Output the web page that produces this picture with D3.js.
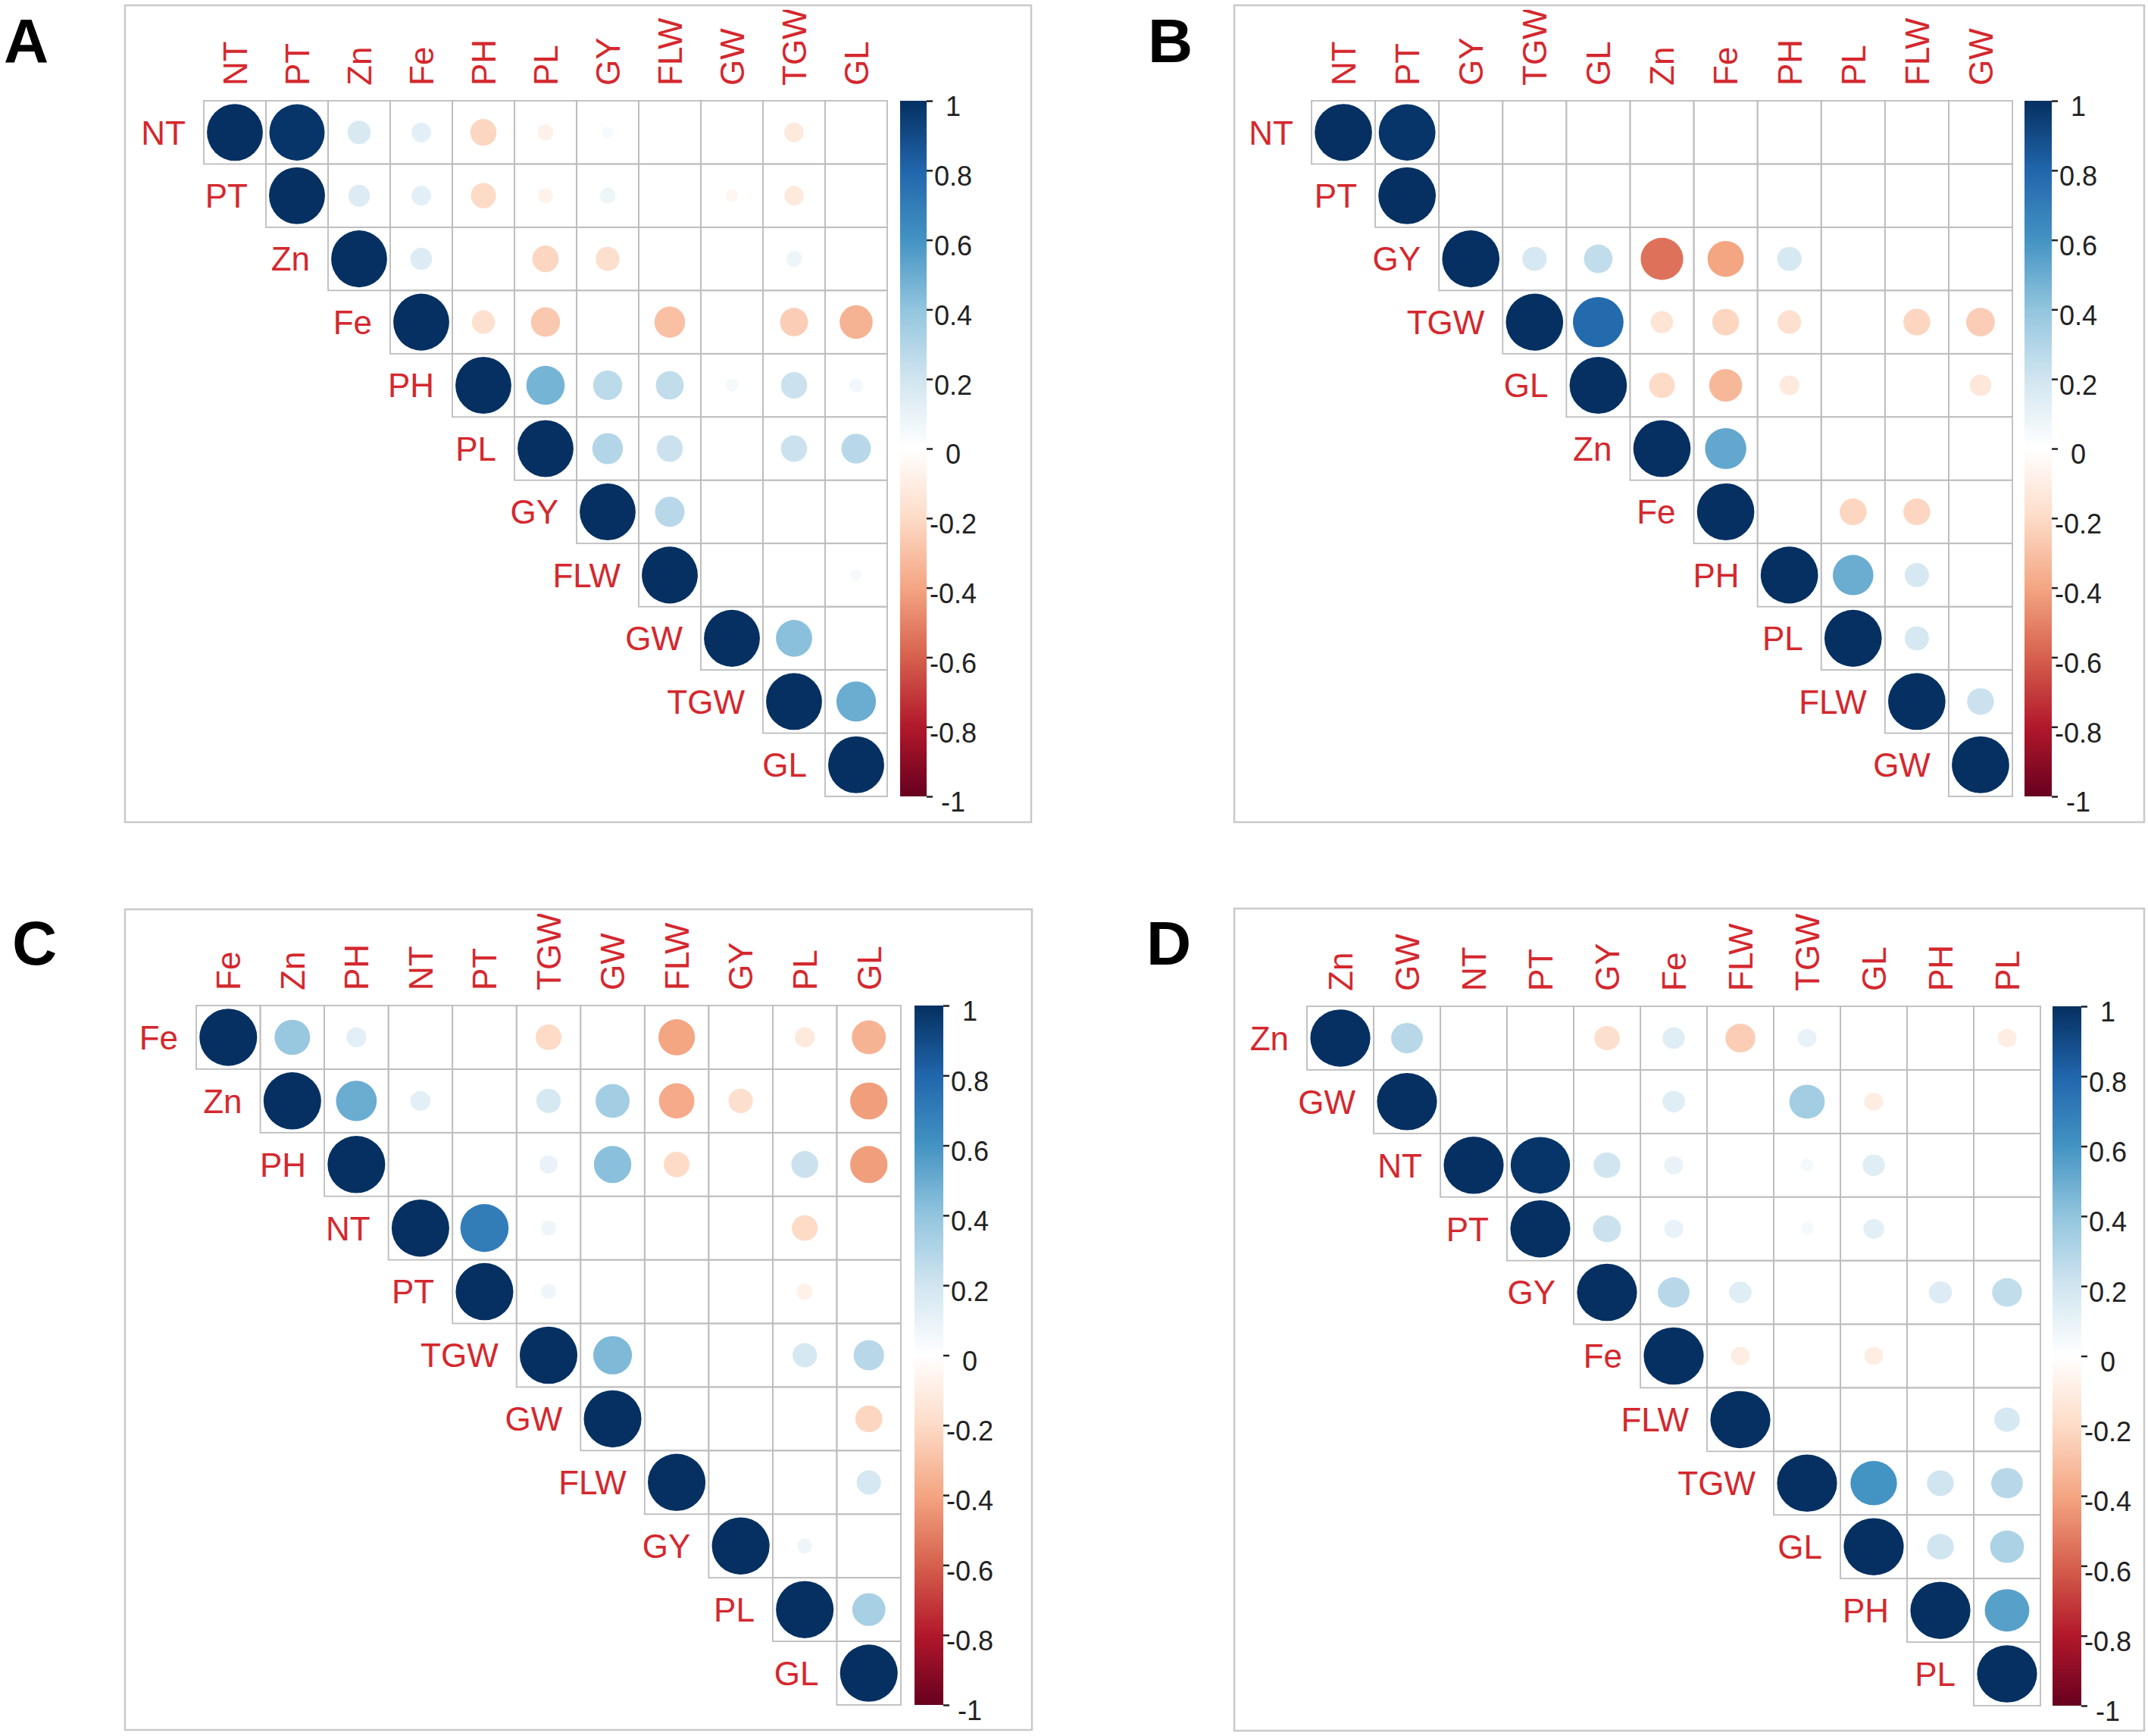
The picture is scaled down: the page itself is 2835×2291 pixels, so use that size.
<!DOCTYPE html>
<html>
<head>
<meta charset="utf-8">
<script src="https://cdn.jsdelivr.net/npm/d3@7/dist/d3.min.js"></script>
<style>
  body { margin: 0; background: #fff; }
  text { font-family: "Liberation Sans", Arial, sans-serif; }
</style>
</head>
<body>
<svg id="chart"></svg>
<script>
// variable order of each panel (rows and columns)
const varsA = ["NT", "PT", "Zn", "Fe", "PH", "PL", "GY", "FLW", "GW", "TGW", "GL"];
const varsB = ["NT", "PT", "GY", "TGW", "GL", "Zn", "Fe", "PH", "PL", "FLW", "GW"];
const varsC = ["Fe", "Zn", "PH", "NT", "PT", "TGW", "GW", "FLW", "GY", "PL", "GL"];
const varsD = ["Zn", "GW", "NT", "PT", "GY", "Fe", "FLW", "TGW", "GL", "PH", "PL"];

// upper triangle of each correlation matrix, row i starts at the diagonal
const corrA = [
  [1, 0.98, 0.17, 0.12, -0.22, -0.08, 0.04, 0, 0, -0.12, 0],
  [1, 0.15, 0.12, -0.2, -0.07, 0.08, 0, -0.05, -0.12, 0],
  [1, 0.15, 0, -0.22, -0.18, 0, 0, 0.08, 0],
  [1, -0.17, -0.27, 0, -0.3, 0, -0.25, -0.35],
  [1, 0.47, 0.27, 0.25, 0.05, 0.22, 0.06],
  [1, 0.3, 0.22, 0, 0.22, 0.28],
  [1, 0.28, 0, 0, 0],
  [1, 0, 0, 0.04],
  [1, 0.42, 0],
  [1, 0.5],
  [1]
];
const corrB = [
  [1, 0.98, 0, 0, 0, 0, 0, 0, 0, 0, 0],
  [1, 0, 0, 0, 0, 0, 0, 0, 0, 0],
  [1, 0.18, 0.25, -0.55, -0.4, 0.18, 0, 0, 0],
  [1, 0.78, -0.15, -0.22, -0.17, 0, -0.22, -0.25],
  [1, -0.2, -0.33, -0.12, 0, 0, -0.14],
  [1, 0.52, 0, 0, 0, 0],
  [1, 0, -0.22, -0.22, 0],
  [1, 0.5, 0.18, 0],
  [1, 0.18, 0],
  [1, 0.22],
  [1]
];
const corrC = [
  [1, 0.38, 0.12, 0, 0, -0.2, 0, -0.4, 0, -0.12, -0.35],
  [1, 0.5, 0.12, 0, 0.18, 0.35, -0.38, -0.18, 0, -0.42],
  [1, 0, 0, 0.1, 0.42, -0.2, 0, 0.22, -0.42],
  [1, 0.7, 0.07, 0, 0, 0, -0.2, 0],
  [1, 0.07, 0, 0, 0, -0.08, 0],
  [1, 0.45, 0, 0, 0.18, 0.28],
  [1, 0, 0, 0, -0.22],
  [1, 0, 0, 0.18],
  [1, 0.07, 0],
  [1, 0.33],
  [1]
];
const corrD = [
  [1, 0.28, 0, 0, -0.18, 0.14, -0.25, 0.1, 0, 0, -0.1],
  [1, 0, 0, 0, 0.14, 0, 0.35, -0.1, 0, 0],
  [1, 0.98, 0.2, 0.1, 0, 0.05, 0.14, 0, 0],
  [1, 0.22, 0.1, 0, 0.05, 0.12, 0, 0],
  [1, 0.28, 0.14, 0, 0, 0.15, 0.25],
  [1, -0.1, 0, -0.1, 0, 0],
  [1, 0, 0, 0, 0.18],
  [1, 0.6, 0.2, 0.28],
  [1, 0.2, 0.32],
  [1, 0.55],
  [1]
];

const legendTicks = [1, 0.8, 0.6, 0.4, 0.2, 0, -0.2, -0.4, -0.6, -0.8, -1];

// corrplot RdBu palette, from -1 to 1
const rdbu = ["#67001F", "#B2182B", "#D6604D", "#F4A582", "#FDDBC7", "#FFFFFF",
              "#D1E5F0", "#92C5DE", "#4393C3", "#2166AC", "#053061"];
const color = d3.scaleLinear()
  .domain(d3.range(11).map(i => -1 + i * 0.2))
  .range(rdbu);

const W = 2835, H = 2291;
const svg = d3.select("#chart").attr("width", W).attr("height", H);
svg.append("rect").attr("width", W).attr("height", H).attr("fill", "#fff");

const defs = svg.append("defs");
const grad = defs.append("linearGradient")
  .attr("id", "rdbu").attr("x1", 0).attr("y1", 1).attr("x2", 0).attr("y2", 0);
rdbu.forEach((c, i) => grad.append("stop").attr("offset", i / 10).attr("stop-color", c));

const labelRed = "#d4282e";

const panels = [
  { letter: "A", vars: varsA, corr: corrA, frame: [165, 7, 1361, 1085], grid: [269, 133, 1171, 1051], bar: [1188, 1223], lx: 5, ly: 82 },
  { letter: "B", vars: varsB, corr: corrB, frame: [1629, 7, 2830, 1085], grid: [1731, 133, 2656, 1051], bar: [2672, 2708], lx: 1515, ly: 82 },
  { letter: "C", vars: varsC, corr: corrC, frame: [165, 1200, 1362, 2283], grid: [259, 1327, 1189, 2250], bar: [1207, 1245], lx: 16, ly: 1273 },
  { letter: "D", vars: varsD, corr: corrD, frame: [1629, 1199, 2830, 2284], grid: [1725, 1328, 2693, 2251], bar: [2709, 2747], lx: 1513, ly: 1273 }
];

panels.forEach((p, pi) => {
  const [fx0, fy0, fx1, fy1] = p.frame;
  const [gx0, gy0, gx1, gy1] = p.grid;

  // panel letter
  svg.append("text")
    .attr("x", p.lx).attr("y", p.ly)
    .attr("font-size", 82).attr("font-weight", 700)
    .attr("fill", "#000")
    .text(p.letter);

  // frame
  svg.append("rect")
    .attr("x", fx0).attr("y", fy0)
    .attr("width", fx1 - fx0).attr("height", fy1 - fy0)
    .attr("fill", "none").attr("stroke", "#c9c9c9").attr("stroke-width", 2.5);

  // plot region clips the long column labels at the top, like the original
  defs.append("clipPath").attr("id", "clip" + pi)
    .append("rect").attr("x", fx0).attr("y", fy0 + 6)
    .attr("width", fx1 - fx0).attr("height", fy1 - fy0 - 6);

  const g = svg.append("g").attr("clip-path", `url(#clip${pi})`);

  const x = d3.scaleBand().domain(p.vars).range([gx0, gx1]);
  const y = d3.scaleBand().domain(p.vars).range([gy0, gy1]);
  const rx = d3.scaleSqrt().domain([0, 1]).range([0, 0.45 * x.bandwidth()]);
  const ry = d3.scaleSqrt().domain([0, 1]).range([0, 0.45 * y.bandwidth()]);

  const cells = [];
  p.corr.forEach((row, i) => row.forEach((v, k) => {
    cells.push({ r: p.vars[i], c: p.vars[i + k], v });
  }));

  g.selectAll("rect.cell").data(cells).join("rect")
    .attr("class", "cell")
    .attr("x", d => x(d.c)).attr("y", d => y(d.r))
    .attr("width", x.bandwidth()).attr("height", y.bandwidth())
    .attr("fill", "none").attr("stroke", "#bdbdbd").attr("stroke-width", 1.8);

  g.selectAll("ellipse").data(cells.filter(d => d.v !== 0)).join("ellipse")
    .attr("cx", d => x(d.c) + x.bandwidth() / 2)
    .attr("cy", d => y(d.r) + y.bandwidth() / 2)
    .attr("rx", d => rx(Math.abs(d.v)))
    .attr("ry", d => ry(Math.abs(d.v)))
    .attr("fill", d => color(d.v));

  // column labels (rotated)
  g.selectAll("text.col").data(p.vars).join("text")
    .attr("class", "col")
    .attr("transform", d => `translate(${x(d) + x.bandwidth() / 2},${gy0 - 20}) rotate(-90)`)
    .attr("dy", "0.36em")
    .attr("font-size", 44).attr("fill", labelRed)
    .text(d => d);

  // row labels, left of the diagonal cell
  g.selectAll("text.row").data(p.vars).join("text")
    .attr("class", "row")
    .attr("x", d => x(d) - 24)
    .attr("y", d => y(d) + y.bandwidth() / 2)
    .attr("dy", "0.36em")
    .attr("text-anchor", "end")
    .attr("font-size", 44).attr("fill", labelRed)
    .text(d => d);

  // colour legend
  const [bx0, bx1] = p.bar;
  const ly = d3.scaleLinear().domain([-1, 1]).range([gy1, gy0]);
  svg.append("rect")
    .attr("x", bx0).attr("y", gy0)
    .attr("width", bx1 - bx0).attr("height", gy1 - gy0)
    .attr("fill", "url(#rdbu)");
  const leg = svg.append("g").attr("transform", `translate(${bx1},0)`)
    .call(d3.axisRight(ly).tickValues(legendTicks).tickSize(8).tickPadding(0)
      .tickFormat(d => String(+d.toFixed(1))));
  leg.select(".domain").remove();
  leg.selectAll(".tick line").attr("stroke", "#222").attr("stroke-width", 2.5);
  leg.selectAll(".tick text")
    .attr("x", 35).attr("dy", "0.55em")
    .attr("text-anchor", "middle")
    .attr("font-size", 36).attr("fill", "#222")
    .attr("font-family", "'Liberation Sans', Arial, sans-serif");
});
</script>
</body>
</html>
